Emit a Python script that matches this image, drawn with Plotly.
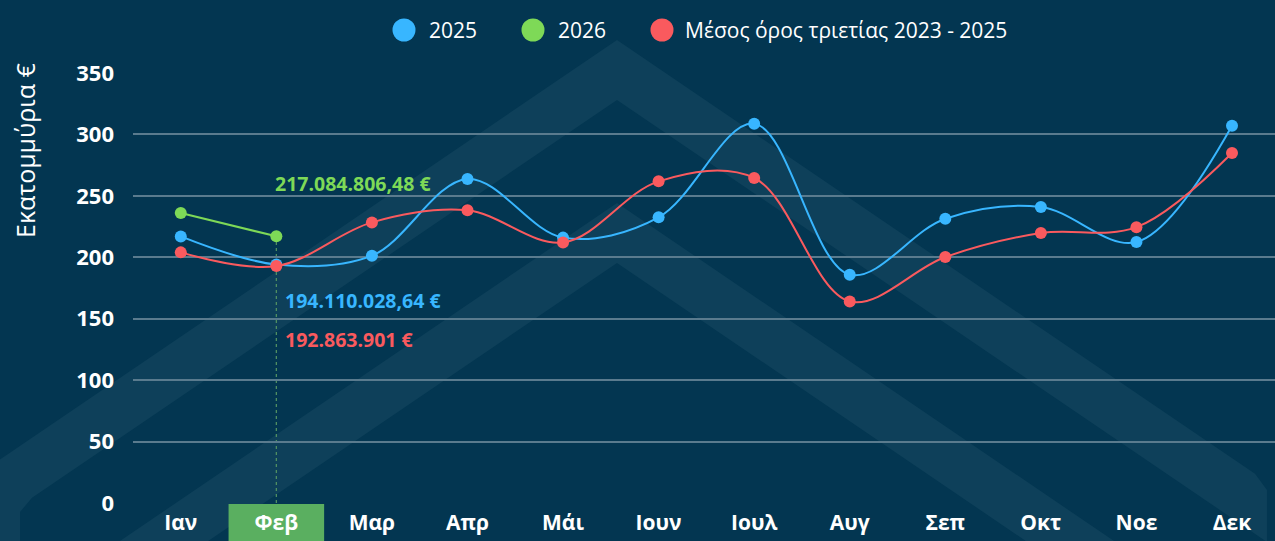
import plotly.graph_objects as go

months = ["Ιαν", "Φεβ", "Μαρ", "Απρ", "Μάι", "Ιουν", "Ιουλ", "Αυγ", "Σεπ", "Οκτ", "Νοε", "Δεκ"]
values_2025 = [217.0, 194.11, 201.3, 263.7, 216.0, 232.5, 308.7, 185.8, 231.4, 240.9, 212.4, 307.1]
values_2026 = [236.0, 217.08]
values_avg = [204.0, 192.86, 228.4, 238.2, 212.0, 261.8, 264.5, 164.1, 200.2, 219.8, 224.5, 284.9]
series_names = ["2025", "2026", "Μέσος όρος τριετίας 2023 - 2025"]
y_ticks = [0, 50, 100, 150, 200, 250, 300, 350]
label_2026 = "217.084.806,48 €"
label_2025 = "194.110.028,64 €"
label_avg = "192.863.901 €"
highlight_month = "Φεβ"

BG = "#033651"
BAND = "#0e405a"
GRID = "#5a7b8e"
BLUE = "#38b6ff"
GREEN = "#7ed957"
RED = "#fa5a5e"
HL = "#5aaf60"
FONT = "Open Sans"

W, H = 1275, 541
ML, MR, MT, MB = 133, 0, 72, 37
PL, PR, PT, PB = ML, W - MR, MT, H - MB


def xp(px):
    return (px - PL) / (PR - PL)


def yp(py):
    return (PB - py) / (PB - PT)


def path(points):
    return "M " + " L ".join(f"{xp(x):.5f},{yp(y):.5f}" for x, y in points) + " Z"


s = 0.68
ax = 617
big = [(-40, 40 + s * (ax + 40)), (ax, 40), (1255, 40 + s * (1255 - ax)), (1267, 490),
       (1267, 560), (ax + (460 / s), 560), (ax, 100), (32, 100 + s * (ax - 32)), (20, 512),
       (20, 560), (-40, 560)]
small = [(ax - (400 / s), 603), (ax, 203), (ax + (400 / s), 603), (ax + (340 / s), 603),
         (ax, 263), (ax - (340 / s), 603)]

shapes = [
    dict(type="path", path=path(big), xref="paper", yref="paper", fillcolor=BAND,
         line=dict(width=0), layer="below"),
    dict(type="path", path=path(small), xref="paper", yref="paper", fillcolor=BAND,
         line=dict(width=0), layer="below"),
]

xr = [-0.5, 11.45]
hi = months.index(highlight_month)


def cat_paper(v):
    return (v - xr[0]) / (xr[1] - xr[0])


shapes.append(dict(type="rect", xref="paper", yref="paper", x0=cat_paper(hi - 0.5),
                   x1=cat_paper(hi + 0.5), y0=yp(H + 5), y1=0, fillcolor=HL,
                   line=dict(width=0), layer="below"))
shapes.append(dict(type="line", xref="x", yref="y", x0=hi, x1=hi, y0=0, y1=values_2026[1],
                   line=dict(color="#4f8f62", width=1.3, dash="dot"), layer="below"))

fig = go.Figure()
fig.add_trace(go.Scatter(x=months, y=values_2025, name=series_names[0], mode="lines+markers",
                         line=dict(color=BLUE, width=2, shape="spline", smoothing=1.0),
                         marker=dict(size=12, color=BLUE)))
fig.add_trace(go.Scatter(x=months[:2], y=values_2026, name=series_names[1], mode="lines+markers",
                         line=dict(color=GREEN, width=2), marker=dict(size=12, color=GREEN)))
fig.add_trace(go.Scatter(x=months, y=values_avg, name=series_names[2], mode="lines+markers",
                         line=dict(color=RED, width=2, shape="spline", smoothing=1.0),
                         marker=dict(size=12, color=RED)))

annotations = [
    dict(x=hi, y=values_2026[1], xref="x", yref="y", text=f"<b>{label_2026}</b>", showarrow=False,
         xanchor="left", yanchor="middle", xshift=-3, yshift=53, font=dict(color=GREEN, size=19.5, family=FONT)),
    dict(x=hi, y=values_2025[1], xref="x", yref="y", text=f"<b>{label_2025}</b>", showarrow=False,
         xanchor="left", yanchor="middle", xshift=7, yshift=-36, font=dict(color=BLUE, size=19.5, family=FONT)),
    dict(x=hi, y=values_avg[1], xref="x", yref="y", text=f"<b>{label_avg}</b>", showarrow=False,
         xanchor="left", yanchor="middle", xshift=7, yshift=-73, font=dict(color=RED, size=19.5, family=FONT)),
    dict(x=xp(25), y=yp(151), xref="paper", yref="paper", text="Εκατομμύρια €", textangle=-90,
         showarrow=False, xanchor="center", yanchor="middle", font=dict(color="white", size=25, family=FONT)),
]

# manual legend
leg_colors = [BLUE, GREEN, RED]
leg_cx = [404, 533, 662]
leg_tx = [427, 556, 683]
for name, c, cx, tx in zip(series_names, leg_colors, leg_cx, leg_tx):
    r = 11.5
    shapes.append(dict(type="circle", xref="paper", yref="paper", x0=xp(cx - r), x1=xp(cx + r),
                       y0=yp(30 + r), y1=yp(30 - r), fillcolor=c, line=dict(width=0)))
    annotations.append(dict(x=xp(tx), y=yp(30), xref="paper", yref="paper", text=name, showarrow=False,
                            xanchor="left", yanchor="middle", font=dict(color="white", size=21, family=FONT)))

fig.update_layout(
    width=W, height=H,
    margin=dict(l=ML, r=MR, t=MT, b=MB),
    paper_bgcolor=BG, plot_bgcolor="rgba(0,0,0,0)",
    showlegend=False,
    shapes=shapes, annotations=annotations,
    font=dict(family=FONT, color="white"),
    xaxis=dict(range=xr, showgrid=False, zeroline=False, showline=False, ticks="",
               tickmode="array", tickvals=list(range(len(months))),
               ticktext=[f"<b>{m}</b>" for m in months], ticklabelstandoff=4,
               tickfont=dict(size=21, color="white", family=FONT), fixedrange=True),
    yaxis=dict(range=[-0.8, 350.8], tickmode="array", tickvals=y_ticks,
               ticktext=[f"<b>{v}</b>" for v in y_ticks],
               showgrid=True, gridcolor=GRID, gridwidth=2,
               zeroline=False, showline=False, ticks="", ticklabelstandoff=18,
               tickfont=dict(size=22, color="white", family=FONT), fixedrange=True),
)

fig.write_html("out.html", config={"displayModeBar": False},
               post_script="document.body.style.margin='0';document.body.style.overflow='hidden';")
